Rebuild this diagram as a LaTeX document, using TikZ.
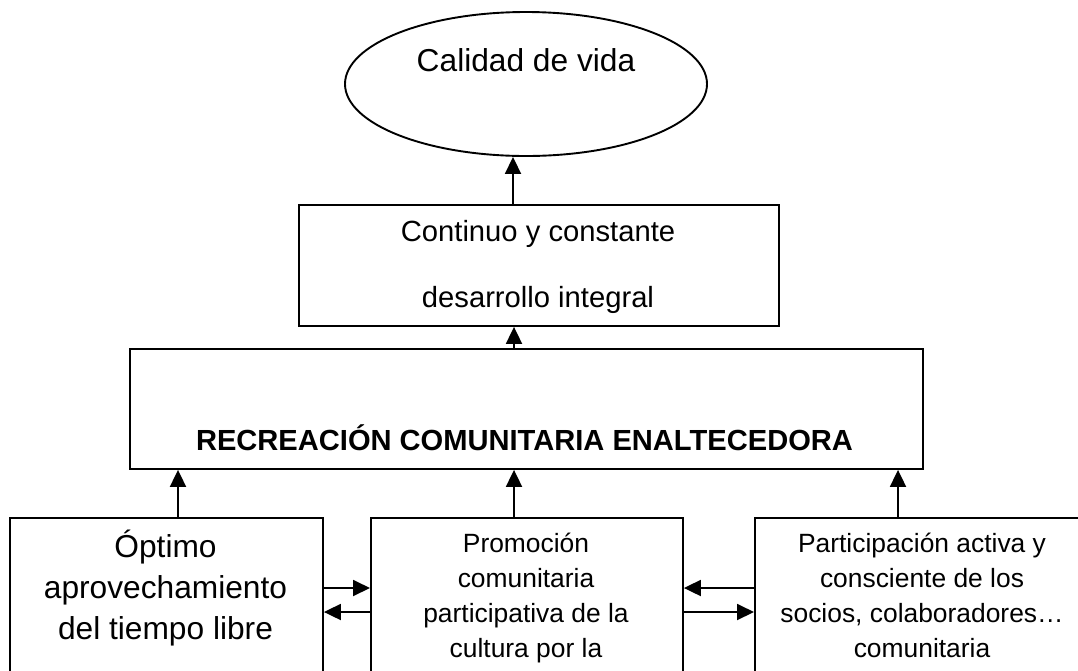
\documentclass[tikz,border=0pt]{standalone}
\usepackage{fontspec}
\setmainfont{Liberation Sans}
\usetikzlibrary{arrows.meta,shapes.geometric}
\begin{document}
\begin{tikzpicture}[x=1pt,y=-1pt,
  lw/.style={line width=1.9pt},
  box/.style={draw,lw,rectangle,inner sep=0pt,anchor=north west},
  arr/.style={lw,-{Triangle[length=17pt,width=16pt]}},
  tbig/.style={font=\fontsize{31.7}{38}\selectfont,anchor=base,inner sep=0pt},
  tmed/.style={font=\fontsize{29.2}{35}\selectfont,anchor=base,inner sep=0pt},
  tbold/.style={font=\fontsize{29.1}{35}\selectfont\bfseries,anchor=base,inner sep=0pt},
  tsmall/.style={font=\fontsize{26.4}{32}\selectfont,anchor=base,inner sep=0pt}]
\useasboundingbox (0,0) rectangle (1078,670);
\clip (0,0) rectangle (1078,670);
% shapes
\node[draw,lw,ellipse,inner sep=0pt,minimum width=362pt,minimum height=144pt] (cal) at (526,84) {};
\node[box,minimum width=480pt,minimum height=121pt] (cont) at (298,204) {};
\node[box,minimum width=793pt,minimum height=120pt] (rec) at (129,348) {};
\node[box,minimum width=313pt,minimum height=220pt] (opt) at (9,517) {};
\node[box,minimum width=312pt,minimum height=220pt] (prom) at (370,517) {};
\node[box,minimum width=400pt,minimum height=220pt] (part) at (754,517) {};
% texts
\node[tbig] (calt) at (526,71) {Calidad de vida};
\node[tmed] (cont1) at (538,241.5) {Continuo y constante};
\node[tmed] (cont2) at (538,307.5) {desarrollo integral};
\node[tbold] (rect) at (524.5,450) {RECREACIÓN COMUNITARIA ENALTECEDORA};
\node[tbig] (opt1) at (165.5,557) {Óptimo};
\node[tbig] (opt2) at (165.5,598) {aprovechamiento};
\node[tbig] (opt3) at (165.5,639) {del tiempo libre};
\node[tsmall] (prom1) at (526,552) {Promoción};
\node[tsmall] (prom2) at (526,587) {comunitaria};
\node[tsmall] (prom3) at (526,622) {participativa de la};
\node[tsmall] (prom4) at (526,657) {cultura por la};
\node[tsmall] (part1) at (922,552) {Participación activa y};
\node[tsmall] (part2) at (922,587) {consciente de los};
\node[tsmall] (part3) at (922,622) {socios, colaboradores…};
\node[tsmall] (part4) at (922,657) {comunitaria};
% vertical connectors
\draw[arr] (cont.north -| 513,0) -- (cal.south -| 513,0);
\draw[arr] (rec.north -| 514,0) -- (cont.south -| 514,0);
\draw[arr] (opt.north -| 178,0) -- (rec.south -| 178,0);
\draw[arr] (prom.north -| 514,0) -- (rec.south -| 514,0);
\draw[arr] (part.north -| 898,0) -- (rec.south -| 898,0);
% horizontal connectors
\draw[arr] (opt.east |- 0,588) -- (prom.west |- 0,588);
\draw[arr] (prom.west |- 0,612) -- (opt.east |- 0,612);
\draw[arr] (part.west |- 0,588) -- (prom.east |- 0,588);
\draw[arr] (prom.east |- 0,612) -- (part.west |- 0,612);
\end{tikzpicture}
\end{document}
